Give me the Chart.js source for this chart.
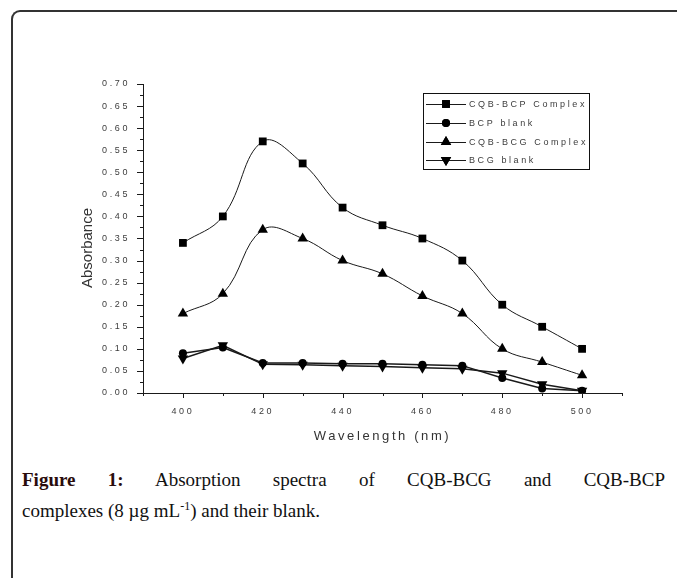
<!DOCTYPE html>
<html>
<head>
<meta charset="utf-8">
<script src="https://cdn.jsdelivr.net/npm/chart.js@4.4.1/dist/chart.umd.min.js"></script>
<style>
  html, body { margin: 0; padding: 0; background: #fff; }
  body { width: 677px; height: 578px; position: relative; overflow: hidden; }
  #frame {
    position: absolute; left: 11px; top: 10px; width: 700px; height: 600px;
    border-top: 2px solid #333; border-left: 2px solid #333; border-top-left-radius: 9px;
  }
  #chart { position: absolute; left: 0; top: 0; }
  .cap {
    position: absolute; left: 22px; width: 643px;
    font-family: "Liberation Serif", serif; font-size: 19px; line-height: 30px; color: #111;
    white-space: nowrap;
  }
  #cap1 { top: 465px; text-align: justify; text-align-last: justify; white-space: normal; }
  #cap2 { top: 496px; }
  #cap1 b { color: #2a0c0c; }
  sup { font-size: 12px; line-height: 0; }
</style>
</head>
<body>
<div id="frame"></div>
<canvas id="chart" width="677" height="460"></canvas>
<div class="cap" id="cap1"><b>Figure 1:</b> Absorption spectra of CQB-BCG and CQB-BCP</div>
<div class="cap" id="cap2">complexes (8 µg mL<sup>-1</sup>) and their blank.</div>
<script>
const wavelengths = [400, 410, 420, 430, 440, 450, 460, 470, 480, 490, 500];
const cqbBcp = [0.34, 0.40, 0.57, 0.52, 0.42, 0.38, 0.35, 0.30, 0.20, 0.15, 0.10];
const bcpBlank = [0.090, 0.103, 0.068, 0.068, 0.066, 0.066, 0.064, 0.062, 0.034, 0.010, 0.005];
const cqbBcg = [0.18, 0.225, 0.37, 0.35, 0.30, 0.27, 0.22, 0.18, 0.10, 0.07, 0.04];
const bcgBlank = [0.078, 0.108, 0.065, 0.064, 0.062, 0.060, 0.057, 0.055, 0.045, 0.020, 0.005];
const seriesNames = ["CQB-BCP Complex", "BCP blank", "CQB-BCG Complex", "BCG blank"];
const xTicks = [400, 420, 440, 460, 480, 500];

const INK = "#1a1a1a";
const TEXT = "#3c3c3c";
const SPACING = "2.6px";

const toPoints = (arr) => wavelengths.map((x, i) => ({ x, y: arr[i] }));

const series = (label, arr, style, opts = {}) => ({
  label,
  data: toPoints(arr),
  borderColor: INK,
  backgroundColor: INK,
  borderWidth: 1,
  pointStyle: style,
  pointRadius: 4,
  pointBorderWidth: 0,
  pointBackgroundColor: "#000",
  tension: 0,
  ...opts,
});

// origin-like tick marks, minor ones shorter
const tickMarks = {
  id: "tickMarks",
  afterDraw(chart) {
    const { ctx, scales: { x, y } } = chart;
    ctx.save();
    ctx.strokeStyle = INK;
    ctx.lineWidth = 1;
    ctx.beginPath();
    for (let v = 390; v <= 510; v += 10) {
      const px = Math.round(x.getPixelForValue(v)) + 0.5;
      const len = v % 20 === 0 ? 5 : 3;
      ctx.moveTo(px, y.bottom);
      ctx.lineTo(px, y.bottom + len);
    }
    for (let i = 0; i <= 28; i++) {
      const py = Math.round(y.getPixelForValue(i * 0.025)) + 0.5;
      const len = i % 2 === 0 ? 6 : 3;
      ctx.moveTo(x.left, py);
      ctx.lineTo(x.left - len, py);
    }
    ctx.stroke();

    // y title without letter spacing
    ctx.letterSpacing = "0px";
    ctx.fillStyle = "#333";
    ctx.font = '15px "Liberation Sans", Arial, sans-serif';
    ctx.translate(88, 248);
    ctx.rotate(-Math.PI / 2);
    ctx.textAlign = "center";
    ctx.textBaseline = "middle";
    ctx.fillText("Absorbance", 0, 0);
    ctx.restore();
  },
};

// boxed legend with line + marker samples
const boxLegend = {
  id: "boxLegend",
  afterDraw(chart) {
    const { ctx } = chart;
    ctx.save();
    ctx.strokeStyle = "#111";
    ctx.lineWidth = 1;
    ctx.strokeRect(423.5, 93.5, 166, 76);
    const rows = [104, 123, 142, 160];
    chart.data.datasets.forEach((ds, i) => {
      const cy = rows[i];
      ctx.strokeStyle = INK;
      ctx.beginPath();
      ctx.moveTo(426, cy + 0.5);
      ctx.lineTo(466, cy + 0.5);
      ctx.stroke();
      ctx.fillStyle = "#000";
      Chart.helpers.drawPoint(ctx, {
        pointStyle: ds.pointStyle,
        radius: ds.pointRadius,
        rotation: ds.pointRotation || 0,
        borderWidth: 0,
      }, 446, cy);
      ctx.fill();
      ctx.fillStyle = TEXT;
      ctx.font = '9px "Liberation Sans", Arial, sans-serif';
      ctx.letterSpacing = SPACING;
      ctx.textBaseline = "middle";
      ctx.textAlign = "left";
      ctx.fillText(ds.label, 469, cy + 1);
    });
    ctx.restore();
  },
};

const spacedText = {
  id: "spacedText",
  beforeDraw(chart) {
    chart.ctx.letterSpacing = SPACING;
  },
};

new Chart(document.getElementById("chart"), {
  type: "line",
  data: {
    datasets: [
      series(seriesNames[0], cqbBcp, "rect", { tension: 0.4, pointRadius: 5.5 }),
      series(seriesNames[1], bcpBlank, "circle", { pointRadius: 4, borderWidth: 1.5 }),
      series(seriesNames[2], cqbBcg, "triangle", { tension: 0.4, pointRadius: 6 }),
      series(seriesNames[3], bcgBlank, "triangle", { pointRotation: 180, pointRadius: 6, borderWidth: 1.5 }),
    ],
  },
  options: {
    responsive: false,
    devicePixelRatio: 1,
    animation: false,
    layout: { padding: { left: 0, top: 84, right: 55, bottom: 0 } },
    plugins: { legend: { display: false }, tooltip: { enabled: false } },
    scales: {
      x: {
        type: "linear",
        min: 390,
        max: 510,
        afterFit: (scale) => { scale.height = 67; },
        afterBuildTicks: (scale) => { scale.ticks = xTicks.map((v) => ({ value: v })); },
        grid: { display: false },
        border: { display: true, color: INK, width: 1 },
        ticks: {
          padding: 5,
          color: TEXT,
          font: { family: '"Liberation Sans", Arial, sans-serif', size: 9 },
          maxRotation: 0,
        },
        title: {
          display: true,
          text: "Wavelength (nm)",
          color: "#333",
          font: { family: '"Liberation Sans", Arial, sans-serif', size: 13 },
          padding: { top: 4, bottom: 16 },
        },
      },
      y: {
        min: 0,
        max: 0.7,
        afterFit: (scale) => { scale.width = 143; },
        grid: { display: false },
        border: { display: true, color: INK, width: 1 },
        ticks: {
          stepSize: 0.05,
          padding: 5,
          color: TEXT,
          font: { family: '"Liberation Sans", Arial, sans-serif', size: 9 },
          callback: (v) => Number(v).toFixed(2),
        },
      },
    },
  },
  plugins: [spacedText, tickMarks, boxLegend],
});
</script>
</body>
</html>
